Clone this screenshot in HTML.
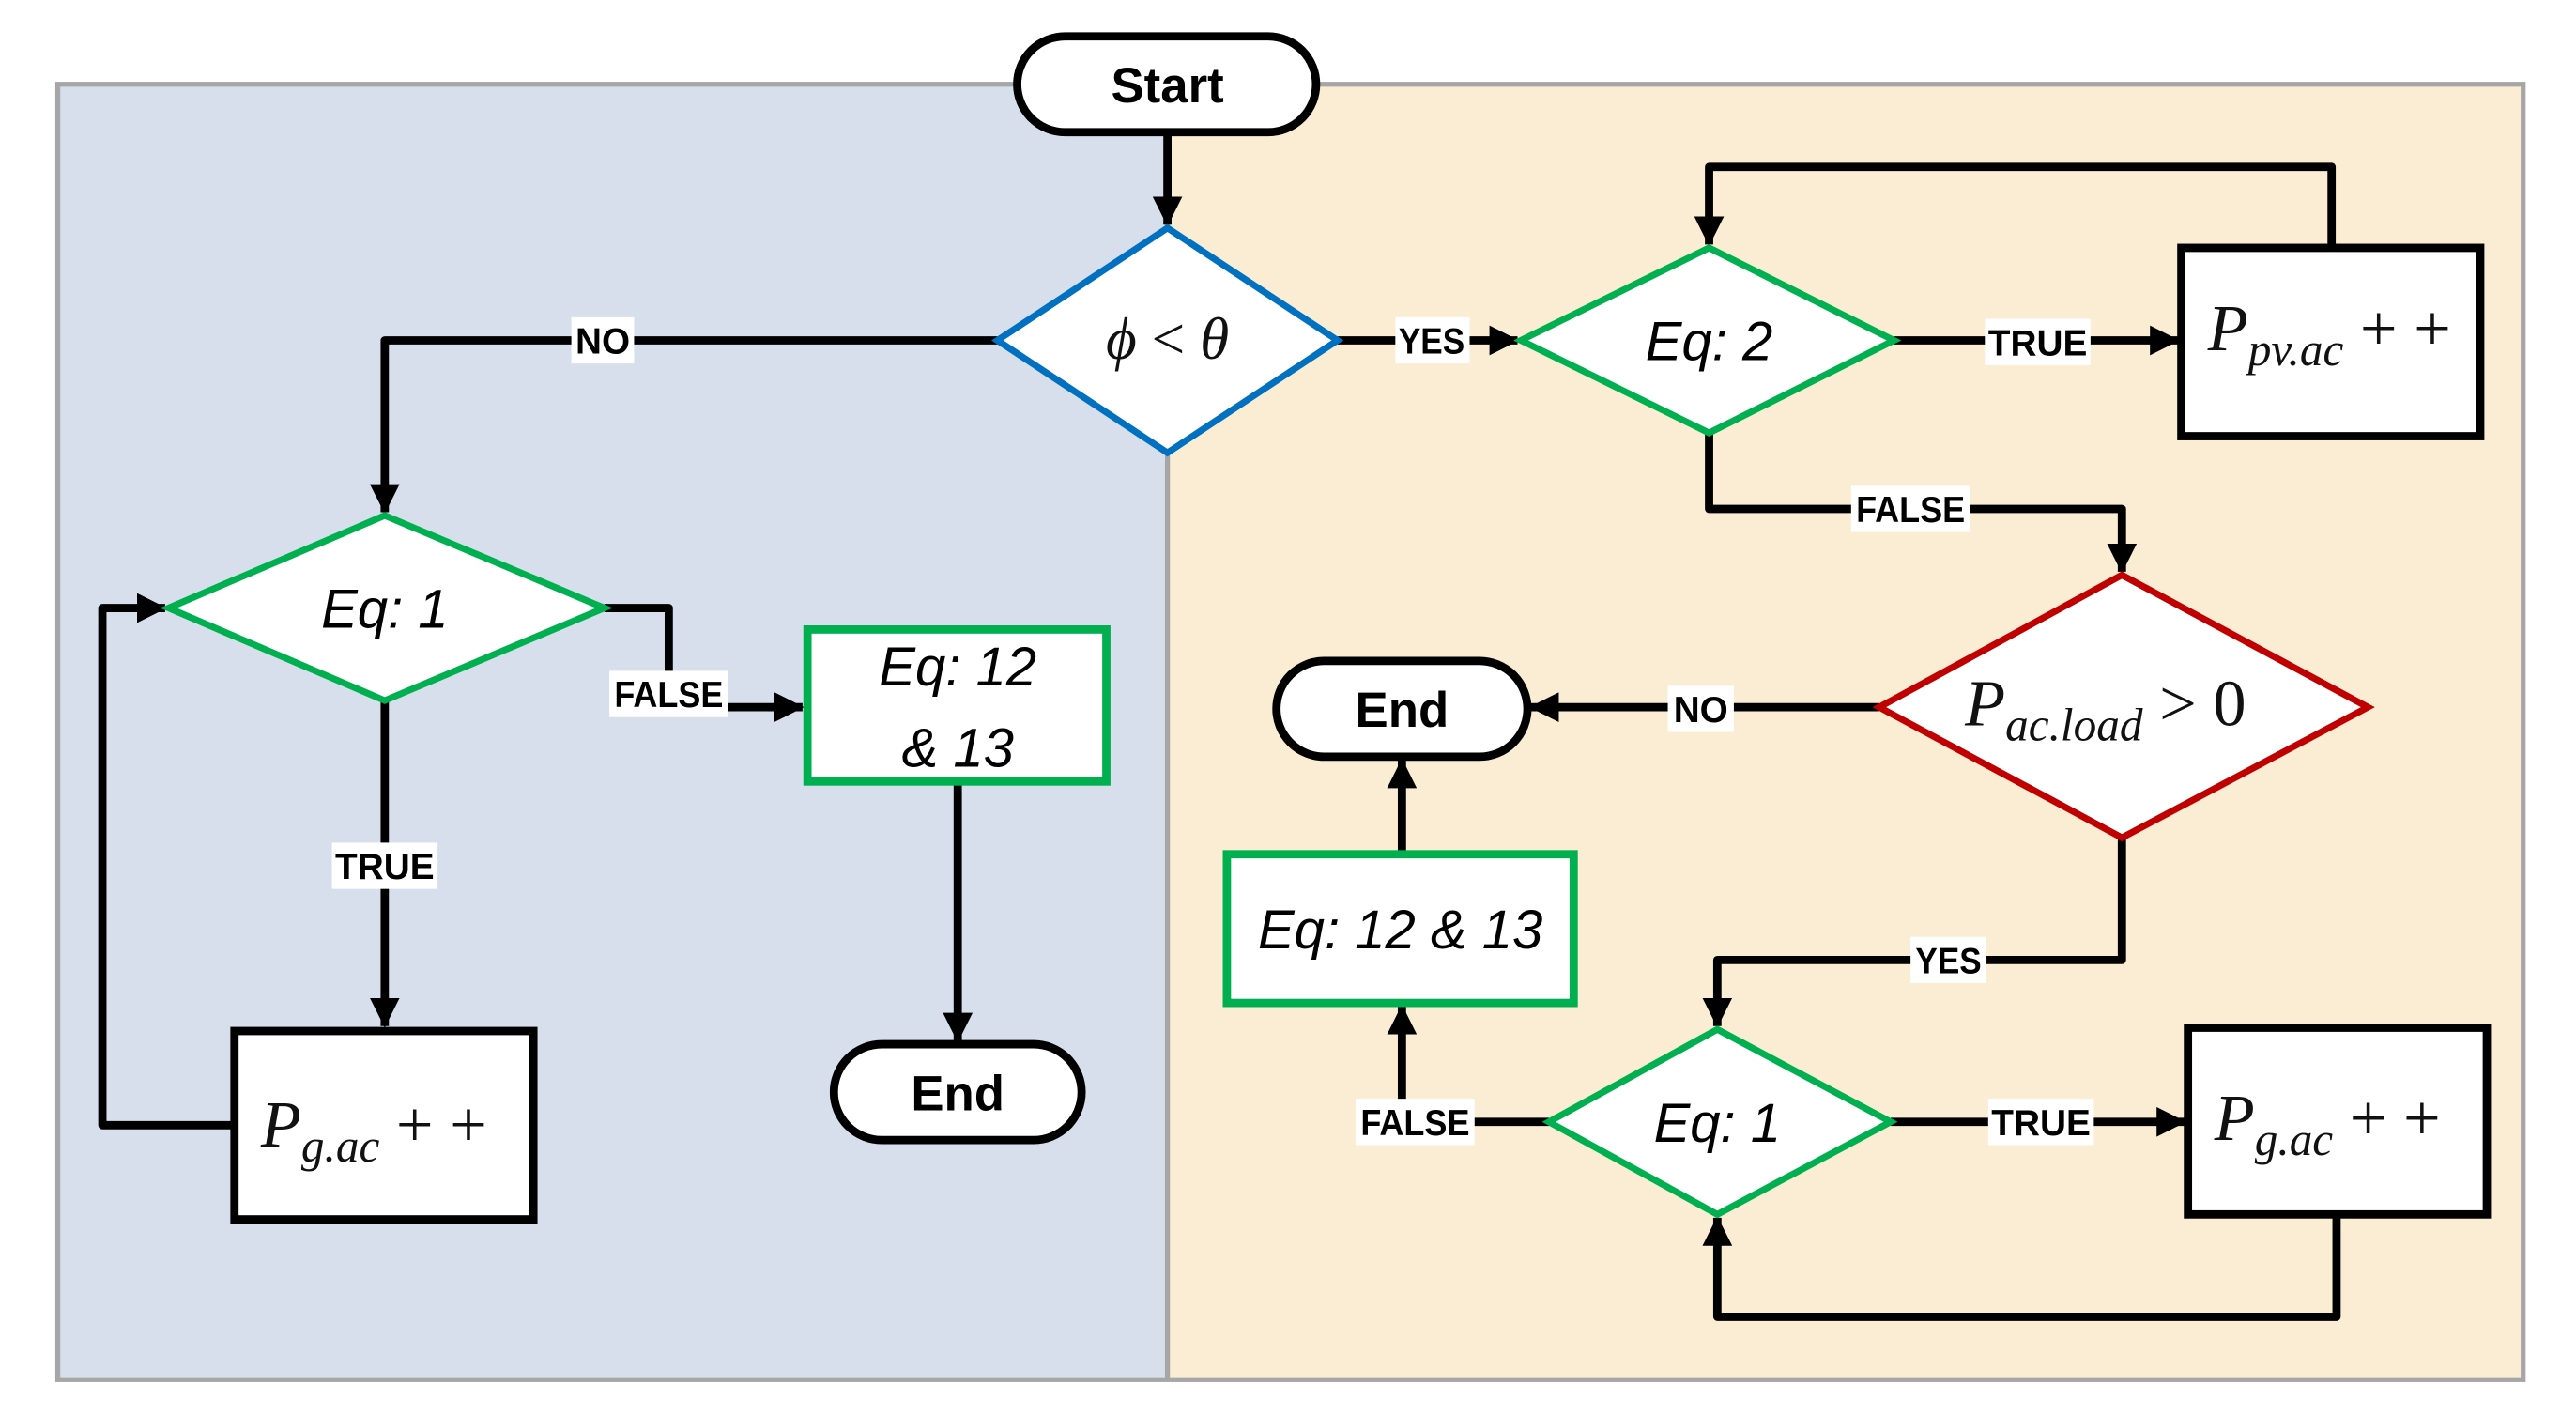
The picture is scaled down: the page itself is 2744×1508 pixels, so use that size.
<!DOCTYPE html>
<html><head><meta charset="utf-8"><style>html,body{margin:0;padding:0;background:#fff}svg{display:block}</style></head>
<body>
<svg width="2744" height="1508" viewBox="0 0 1560 857" preserveAspectRatio="none" xmlns="http://www.w3.org/2000/svg">
<defs>
<marker id="a" viewBox="0 0 18 18" refX="17" refY="9" markerWidth="18" markerHeight="18" markerUnits="userSpaceOnUse" orient="auto"><path d="M0,0 L18,9 L0,18 Z" fill="#000"/></marker>
</defs>
<rect x="35" y="51" width="672" height="784" fill="#d6dfeb"/>
<rect x="707" y="51" width="821" height="784" fill="#fbedd3"/>
<rect x="35" y="51" width="1493" height="784" fill="none" stroke="#a6a6a6" stroke-width="3"/>
<line x1="707" y1="51" x2="707" y2="835" stroke="#a6a6a6" stroke-width="3"/>

<g fill="none" stroke="#000" stroke-width="5" stroke-linejoin="round">
<path d="M707,80 V136" marker-end="url(#a)"/>
<path d="M604,206 H233 V310" marker-end="url(#a)"/>
<path d="M366,368 H405 V428 H486" marker-end="url(#a)"/>
<path d="M580,473 V630" marker-end="url(#a)"/>
<path d="M233,424 V621" marker-end="url(#a)"/>
<path d="M142,681 H62 V368 H100" marker-end="url(#a)"/>
<path d="M810,206 H919" marker-end="url(#a)"/>
<path d="M1147,206 H1319" marker-end="url(#a)"/>
<path d="M1412,150 V101 H1035 V148" marker-end="url(#a)"/>
<path d="M1035,262 V308 H1285 V346" marker-end="url(#a)"/>
<path d="M1138,428 H927" marker-end="url(#a)"/>
<path d="M1285,507 V581 H1040 V621" marker-end="url(#a)"/>
<path d="M1145,679 H1323" marker-end="url(#a)"/>
<path d="M1415,735 V797 H1040 V737" marker-end="url(#a)"/>
<path d="M938,679 H849 V609" marker-end="url(#a)"/>
<path d="M849,517 V460" marker-end="url(#a)"/>
</g>

<rect x="616" y="22" width="181" height="58" rx="29" fill="#fff" stroke="#000" stroke-width="5"/>
<polygon points="707,138 810,206 707,274 604,206" fill="#fff" stroke="#0070c0" stroke-width="4"/>
<polygon points="233,312 366,368 233,424 102,368" fill="#fff" stroke="#00b050" stroke-width="4"/>
<rect x="489" y="381" width="181" height="92" fill="#fff" stroke="#00b050" stroke-width="5"/>
<rect x="505" y="632" width="150" height="58" rx="29" fill="#fff" stroke="#000" stroke-width="5"/>
<rect x="142" y="624" width="181" height="114" fill="#fff" stroke="#000" stroke-width="5"/>
<polygon points="1035,150 1147,206 1035,262 921,206" fill="#fff" stroke="#00b050" stroke-width="4"/>
<rect x="1321" y="150" width="181" height="114" fill="#fff" stroke="#000" stroke-width="5"/>
<polygon points="1285,348 1434,428 1285,507 1138,428" fill="#fff" stroke="#c00000" stroke-width="4"/>
<rect x="773" y="400" width="152" height="58" rx="29" fill="#fff" stroke="#000" stroke-width="5"/>
<rect x="743" y="517" width="210" height="90" fill="#fff" stroke="#00b050" stroke-width="5"/>
<polygon points="1040,623 1145,679 1040,735 938,679" fill="#fff" stroke="#00b050" stroke-width="4"/>
<rect x="1325" y="622" width="181" height="113" fill="#fff" stroke="#000" stroke-width="5"/>

<g font-family="Liberation Sans, sans-serif" font-weight="bold" font-size="22" text-anchor="middle">
<rect x="346" y="192" width="38" height="28" fill="#fff"/><text x="365" y="214">NO</text>
<rect x="369" y="406" width="72" height="28" fill="#fff"/><text x="405" y="428" textLength="66" lengthAdjust="spacingAndGlyphs">FALSE</text>
<rect x="201" y="510" width="64" height="28" fill="#fff"/><text x="233" y="532" textLength="60" lengthAdjust="spacingAndGlyphs">TRUE</text>
<rect x="845" y="192" width="45" height="28" fill="#fff"/><text x="867" y="214" textLength="40" lengthAdjust="spacingAndGlyphs">YES</text>
<rect x="1202" y="193" width="64" height="28" fill="#fff"/><text x="1234" y="215" textLength="60" lengthAdjust="spacingAndGlyphs">TRUE</text>
<rect x="1121" y="294" width="72" height="28" fill="#fff"/><text x="1157" y="316" textLength="66" lengthAdjust="spacingAndGlyphs">FALSE</text>
<rect x="1010" y="415" width="40" height="28" fill="#fff"/><text x="1030" y="437">NO</text>
<rect x="1157" y="567" width="46" height="28" fill="#fff"/><text x="1180" y="589" textLength="40" lengthAdjust="spacingAndGlyphs">YES</text>
<rect x="1204" y="665" width="64" height="28" fill="#fff"/><text x="1236" y="687" textLength="60" lengthAdjust="spacingAndGlyphs">TRUE</text>
<rect x="821" y="665" width="72" height="28" fill="#fff"/><text x="857" y="687" textLength="66" lengthAdjust="spacingAndGlyphs">FALSE</text>
</g>
<g font-family="Liberation Sans, sans-serif" font-weight="bold" font-size="30" text-anchor="middle">
<text x="707" y="62">Start</text>
<text x="580" y="672">End</text>
<text x="849" y="440">End</text>
</g>
<g font-family="Liberation Sans, sans-serif" font-style="italic" font-size="33" text-anchor="middle">
<text x="233" y="380">Eq: 1</text>
<text x="580" y="415">Eq: 12</text>
<text x="580" y="464">&amp; 13</text>
<text x="1035" y="218">Eq: 2</text>
<text x="848" y="574">Eq: 12 &amp; 13</text>
<text x="1040" y="691">Eq: 1</text>
</g>
<g font-family="Liberation Serif, serif" font-size="40" fill="#111">
<text x="707" y="217" text-anchor="middle" font-size="36"><tspan font-style="italic">ϕ</tspan> &lt; <tspan font-style="italic">θ</tspan></text>
<text x="158" y="694"><tspan font-style="italic">P</tspan><tspan font-style="italic" font-size="28" dy="9">g.ac</tspan><tspan dy="-9"> + +</tspan></text>
<text x="1337" y="212"><tspan font-style="italic">P</tspan><tspan font-style="italic" font-size="28" dy="9">pv.ac</tspan><tspan dy="-9"> + +</tspan></text>
<text x="1341" y="690"><tspan font-style="italic">P</tspan><tspan font-style="italic" font-size="28" dy="9">g.ac</tspan><tspan dy="-9"> + +</tspan></text>
<text x="1190" y="439"><tspan font-style="italic">P</tspan><tspan font-style="italic" font-size="28" dy="9">ac.load</tspan><tspan dy="-9"> &gt; 0</tspan></text>
</g>
</svg>
</body></html>
